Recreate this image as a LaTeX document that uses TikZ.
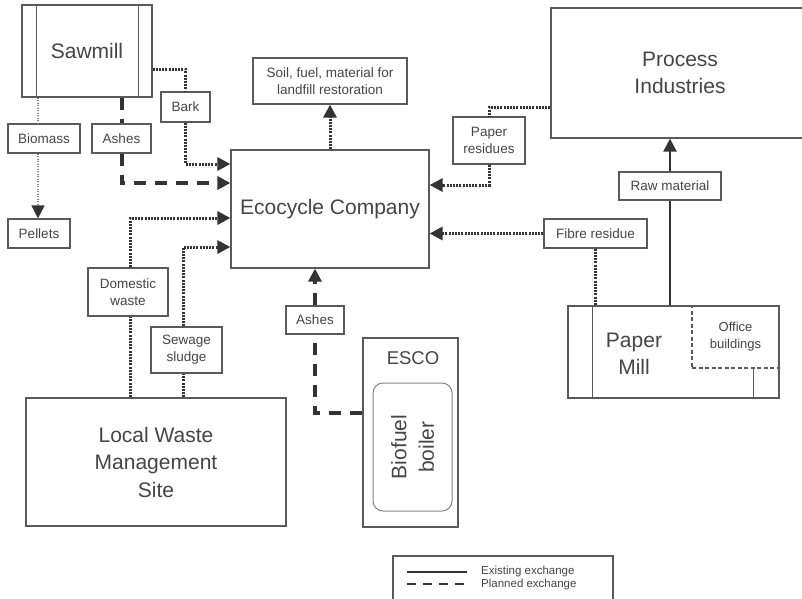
\documentclass[tikz,border=0pt]{standalone}
\usepackage{fontspec}
\setmainfont{Liberation Sans}
\usetikzlibrary{arrows.meta,calc}
\definecolor{boxc}{HTML}{5A5A5A}
\definecolor{txtc}{HTML}{454545}
\definecolor{conc}{HTML}{333333}
\begin{document}
\begin{tikzpicture}[x=1pt,y=-1pt,
  box/.style={draw=boxc,line width=1.2pt,fill=white,inner sep=0pt,text=txtc,align=center},
  big/.style={font=\fontsize{21}{27.5}\selectfont},
  lab/.style={box,font=\fontsize{13.5}{17}\selectfont},
  dotc/.style={draw=conc,line width=3pt,dash pattern=on 2pt off 1.2pt},
  dashc/.style={draw=conc,line width=4pt,dash pattern=on 12pt off 9pt},
  solidc/.style={draw=conc,line width=2.2pt},
  thinc/.style={draw=gray,line width=1.3pt,dash pattern=on 1pt off 1.5pt},
  tip/.style={-{Triangle[length=13pt,width=13pt,color=conc]}},
]
\useasboundingbox (0,0) rectangle (802,598);
\fill[white] (0,0) rectangle (802,598);

% --- main boxes
\node[box,big,minimum width=130pt,minimum height=92pt] (sawmill) at (87,51) {Sawmill};
\node[box,big,minimum width=198pt,minimum height=118pt] (eco) at (330,209) {Ecocycle Company};
\node[box,big,minimum width=260pt,minimum height=128pt] (local) at (156,462) {Local Waste\\Management\\Site};
\node[box,big,minimum width=258pt,minimum height=130pt] (process) at (680,73) {Process\\Industries};
\node[box,minimum width=95pt,minimum height=189pt] (esco) at (410.5,432.5) {};
\node[text=txtc,font=\fontsize{18.5}{22}\selectfont] (escot) at (413,358) {ESCO};
\node[draw=boxc!75,line width=1pt,rounded corners=10pt,minimum width=79pt,minimum height=128pt,inner sep=0pt] (boiler) at (412.5,447) {};
\node[rotate=90,big,text=txtc,align=center] (boilert) at (boiler) {Biofuel\\boiler};
\node[box,minimum width=211pt,minimum height=92pt] (mill) at (673.5,352) {};
\node[big,text=txtc,align=center] (millt) at (634,354) {Paper\\Mill};
\node[draw=boxc,line width=1.1pt,dash pattern=on 4pt off 2.5pt,minimum width=87pt,minimum height=62pt,inner sep=0pt,text=txtc,align=center,font=\fontsize{13}{17}\selectfont] (office) at (735.5,337) {Office\\buildings};

% inner lines
\coordinate (sw1) at ([xshift=15pt]sawmill.north west);
\coordinate (sw2) at ([xshift=-14pt]sawmill.north east);
\draw[draw=boxc,line width=1.2pt] (sw1) -- (sw1 |- sawmill.south);
\draw[draw=boxc,line width=1.2pt] (sw2) -- (sw2 |- sawmill.south);
\coordinate (pm1) at ([xshift=25pt]mill.north west);
\coordinate (pm2) at ([xshift=-26pt]mill.south east);
\draw[draw=boxc,line width=1.2pt] (pm1) -- (pm1 |- mill.south);
\draw[draw=boxc,line width=1.2pt] (pm2) -- (pm2 |- office.south);

% --- labels
\node[lab,minimum width=49pt,minimum height=30pt] (bark) at (185.5,107) {Bark};
\node[lab,minimum width=72pt,minimum height=29pt] (biomass) at (44,138.5) {Biomass};
\node[lab,minimum width=59pt,minimum height=29pt] (ashesA) at (121.5,138.5) {Ashes};
\node[lab,minimum width=62pt,minimum height=29pt] (pellets) at (39,233.5) {Pellets};
\node[lab,minimum width=154pt,minimum height=46pt] (soil) at (330,81) {Soil, fuel, material for\\landfill restoration};
\node[lab,minimum width=80pt,minimum height=48pt] (domestic) at (128,292) {Domestic\\waste};
\node[lab,minimum width=71pt,minimum height=46pt] (sewage) at (186.5,350) {Sewage\\sludge};
\node[lab,minimum width=58pt,minimum height=28pt] (ashesB) at (315,320) {Ashes};
\node[lab,minimum width=72pt,minimum height=47pt] (paperres) at (489,140.5) {Paper\\residues};
\node[lab,minimum width=103pt,minimum height=29pt] (fibre) at (595.5,233.5) {Fibre residue};
\node[lab,minimum width=102pt,minimum height=28pt] (raw) at (670,186) {Raw material};

% --- connectors
\coordinate (barkout) at ([yshift=-18pt]sawmill.east);
\coordinate (barkin) at ([yshift=45pt]eco.west);
\draw[dotc] (barkout) -| (bark.north);
\draw[dotc,tip] (bark.south) |- (barkin);

\coordinate (ashAin) at ([yshift=26pt]eco.west);
\draw[dashc] (ashesA.north |- sawmill.south) -- (ashesA.north);
\draw[dashc,tip] (ashesA.south) |- (ashAin);

\coordinate (bmtop) at ([xshift=-6pt]biomass.north);
\coordinate (bmbot) at ([xshift=-6pt]biomass.south);
\draw[thinc] (bmtop |- sawmill.south) -- (bmtop);
\draw[thinc,tip] (bmbot) -- (bmbot |- pellets.north);

\draw[dotc,tip] (eco.north) -- (soil.south);

\coordinate (dmb) at ([xshift=2pt]domestic.south);
\coordinate (dmt) at ([xshift=2pt]domestic.north);
\coordinate (dmin) at ([yshift=-9pt]eco.west);
\draw[dotc] (dmb |- local.north) -- (dmb);
\draw[dotc,tip] (dmt) |- (dmin);

\coordinate (swb) at ([xshift=-3.5pt]sewage.south);
\coordinate (swt) at ([xshift=-3.5pt]sewage.north);
\coordinate (swin) at ([yshift=-38pt]eco.west);
\draw[dotc] (swb |- local.north) -- (swb);
\draw[dotc,tip] (swt) |- (swin);

\coordinate (ashBout) at ([yshift=20pt]esco.west);
\draw[dashc] (ashBout) -| (ashesB.south);
\draw[dashc,tip] (ashesB.north) -- (ashesB.north |- eco.south);

\coordinate (prout) at ([yshift=-34pt]process.west);
\coordinate (prin) at ([yshift=24pt]eco.east);
\draw[dotc] (prout) -| (paperres.north);
\draw[dotc,tip] (paperres.south) |- (prin);

\draw[dotc,tip] (fibre.west) -- (fibre.west -| eco.east);
\draw[dotc] (fibre.south) -- (fibre.south |- mill.north);

\draw[solidc] (raw.south |- mill.north) -- (raw.south);
\draw[solidc,tip] (raw.north) -- (raw.north |- process.south);

% --- legend
\node[draw=boxc,line width=1.2pt,minimum width=220pt,minimum height=60pt,inner sep=0pt] (legend) at (503,586) {};
\coordinate (la) at (407,572);
\coordinate (lb) at (467,572);
\coordinate (lc) at (407,584);
\coordinate (ld) at (467,584);
\draw[solidc] (la) -- (lb);
\draw[dashc,line width=2.5pt,dash pattern=on 9pt off 7pt] (lc) -- (ld);
\node[anchor=west,font=\fontsize{11.5}{12}\selectfont,text=txtc,inner sep=0pt] (leg1) at (481,572) {Existing exchange};
\node[anchor=west,font=\fontsize{11.5}{12}\selectfont,text=txtc,inner sep=0pt] (leg2) at (481,585) {Planned exchange};
\end{tikzpicture}
\end{document}
